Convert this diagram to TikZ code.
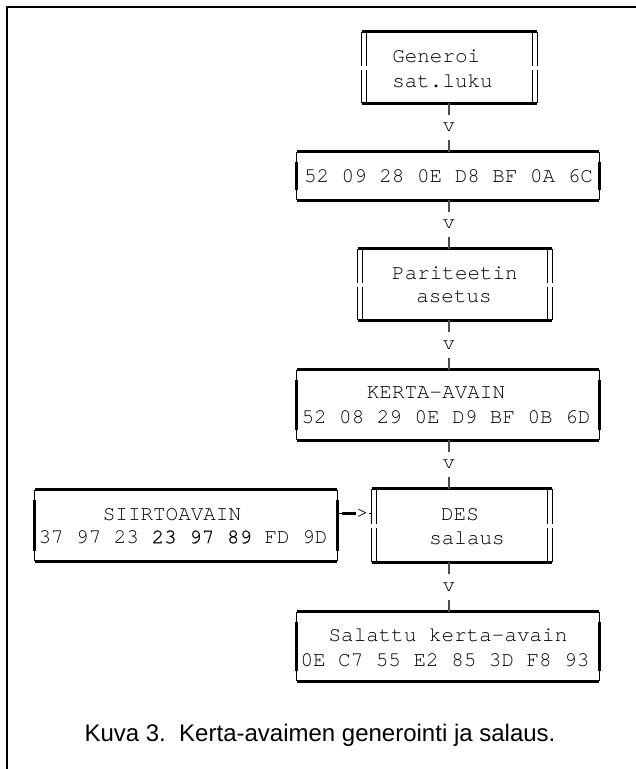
\documentclass[tikz,border=0pt]{standalone}
\usepackage{fontspec}
\setmainfont{Liberation Sans}
\newfontfamily\mono{TeX Gyre Cursor}
\newfontfamily\monobold[FakeBold=0.6]{TeX Gyre Cursor}
\usetikzlibrary{calc}

\newcommand\monotext{\mono\fontsize{15.7}{18}\selectfont}

\tikzset{
  heavy/.style={line width=2pt},
  light/.style={line width=0.8pt},
  stub/.style={line width=1.5pt, draw=black!70},
  outer/.style={line width=1.6pt},
  txt/.style={font=\monotext, inner sep=0pt},
  caption/.style={font=\fontsize{18}{22}\selectfont, inner sep=0pt},
  % a frame given by its corners in pixel units
  span/.style n args={4}{rectangle, inner sep=0pt, draw=none,
    at={({(#1+#3)/2},{(#2+#4)/2})},
    minimum width={(#3-#1)*0.75pt}, minimum height={(#4-#2)*0.75pt}},
}

% box with heavy top and bottom, single sides that are heavy along the text
\newcommand\singleframe[1]{%
  \draw[heavy] (#1.north west) -- (#1.north east);
  \draw[heavy] (#1.south west) -- (#1.south east);
  \draw[light] (#1.north west) -- (#1.south west);
  \draw[light] (#1.north east) -- (#1.south east);
  \draw[heavy] ([yshift=-7.5pt]#1.north west) -- ([yshift=7.5pt]#1.south west);
  \draw[heavy] ([yshift=-7.5pt]#1.north east) -- ([yshift=7.5pt]#1.south east);
}

% box with heavy top and bottom and double sides
\newcommand\doubleframe[1]{%
  \draw[heavy] (#1.north west) -- (#1.north east);
  \draw[heavy] (#1.south west) -- (#1.south east);
  \foreach \dx in {0pt,3.4pt}{
    \draw[light] ([xshift=\dx]#1.north west) -- ([xshift=\dx,yshift=1.5pt]#1.west)
                 ([xshift=\dx,yshift=-1.5pt]#1.west) -- ([xshift=\dx]#1.south west);
    \draw[light] ([xshift=-\dx]#1.north east) -- ([xshift=-\dx,yshift=1.5pt]#1.east)
                 ([xshift=-\dx,yshift=-1.5pt]#1.east) -- ([xshift=-\dx]#1.south east);
  }
}

% vertical link: stub, letter v, stub
\newcommand\link[3]{%
  \draw[stub] (#1.south -| spine) -- ++(0,12);
  \draw[stub] (#2.north -| spine) -- ++(0,-12);
  \node[txt] (#3) at ($(#1.south -| spine)!0.5!(#2.north -| spine)$) {v};
}

\begin{document}
\begin{tikzpicture}[x=0.75pt, y=-0.75pt]
  \useasboundingbox (0,0) rectangle (636,769);
  \coordinate (spine) at (449,0);

  % outer frame
  \draw[outer] (7,769) -- (7,7) -- (636,7);

  % frames
  \node[span={362}{32}{537}{103}] (gen) {};
  \node[span={297}{152}{599}{200}] (raw) {};
  \node[span={358}{249}{552}{320}] (par) {};
  \node[span={297}{370}{599}{440}] (kerta) {};
  \node[span={35}{490}{337}{561}] (siirto) {};
  \node[span={372}{489}{552}{562}] (des) {};
  \node[span={297}{612}{599}{681}] (salattu) {};

  \doubleframe{gen}
  \singleframe{raw}
  \doubleframe{par}
  \singleframe{kerta}
  \singleframe{siirto}
  \doubleframe{des}
  \singleframe{salattu}

  % texts
  \node[txt, anchor=west] (gen1) at (392,56) {Generoi};
  \node[txt, anchor=west] (gen2) at (392,81) {sat.luku};
  \node[txt] (raw1) at (448.5,176) {52 09 28 0E D8 BF 0A 6C};
  \node[txt] (par1) at (455,273) {Pariteetin};
  \node[txt] (par2) at (454,297) {asetus};
  \node[txt] (kerta1) at (436,393) {KERTA-AVAIN};
  \node[txt] (kerta2) at (446,417) {52 08 29 0E D9 BF 0B 6D};
  \node[txt] (siirto1) at (172,515) {SIIRTOAVAIN};
  \node[txt] (siirto2) at (183,537) {37 97 23 {\monobold 23 97 89} FD 9D};
  \node[txt] (des1) at (460,515) {DES};
  \node[txt] (des2) at (467,538) {salaus};
  \node[txt] (salattu1) at (448,635) {Salattu kerta-avain};
  \node[txt] (salattu2) at (445,660) {0E C7 55 E2 85 3D F8 93};

  % vertical links
  \link{gen}{raw}{v1}
  \link{raw}{par}{v2}
  \link{par}{kerta}{v3}
  \link{kerta}{des}{v4}
  \link{des}{salattu}{v5}

  % side link from the transport key into the cipher
  \coordinate (sa) at ($(siirto.east)+(0,-12)$);
  \coordinate (da) at ($(des.west)+(0,-12)$);
  \node[txt] (tip) at ($(sa)+(25,0)$) {>};
  \draw[light] (sa) -- ++(5,0);
  \draw[heavy] ($(sa)+(5,0)$) -- ($(sa)+(19,0)$);
  \draw[light] (tip.east) -- (da);

  % caption
  \node[caption] (cap) at (320,735) {Kuva 3.\ \ Kerta-avaimen generointi ja salaus.};
\end{tikzpicture}
\end{document}
